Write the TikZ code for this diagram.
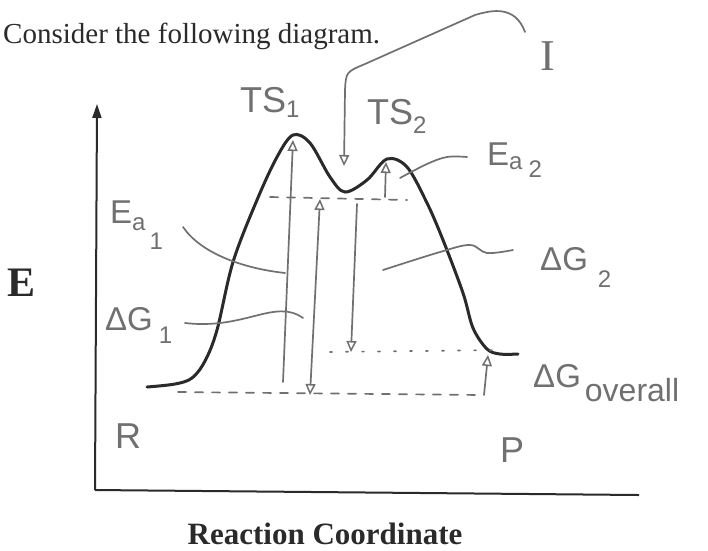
\documentclass[tikz,border=0pt]{standalone}
\usepackage{fontspec}
\setmainfont{Liberation Serif}
\newfontfamily\hand{Liberation Sans}
\usetikzlibrary{arrows.meta}
\definecolor{ink}{HTML}{2A2A2A}
\definecolor{pencil}{HTML}{707070}
\newcommand\lowr[2]{\raisebox{#1}{\fontsize{24}{24}\selectfont #2}}
\tikzset{
  print/.style={text=ink, inner sep=0pt},
  handlbl/.style={text=pencil, inner sep=0pt, font=\hand\fontsize{33}{33}\selectfont},
  biglbl/.style={handlbl, font=\hand\fontsize{36}{36}\selectfont},
  axisline/.style={draw=ink, line width=2pt},
  curveline/.style={draw=ink, line width=3pt, line cap=round},
  pen/.style={draw=pencil, line width=1.7pt, line cap=round},
  guide/.style={pen, dash pattern=on 8pt off 9pt},
  dotguide/.style={pen, dash pattern=on 2pt off 14pt},
  opentip/.tip={Triangle[open,length=11pt,width=10pt,line width=1.5pt]},
  uptip/.style={-opentip},
  bothtip/.style={opentip-opentip},
}
\begin{document}
\begin{tikzpicture}[x=1pt,y=-1pt]
\useasboundingbox (0,0) rectangle (708,550);
\fill[white] (0,0) rectangle (708,550);

% printed text
\node[print, anchor=base west, font=\fontsize{29}{29}\selectfont] (title) at (3,43) {Consider the following diagram.};
\node[print, font=\bfseries\fontsize{42}{42}\selectfont] (elbl) at (22,283) {E};
\node[print, anchor=base, font=\bfseries\fontsize{31}{31}\selectfont] (xlbl) at (325,544) {Reaction Coordinate};

% axes
\coordinate (origin) at (95,490);
\coordinate (ytop) at (97,104);
\coordinate (xend) at (639,495);
\draw[axisline, -{Triangle[length=14pt,width=9pt]}] (origin) -- (ytop);
\draw[axisline] (origin) -- (xend);

% energy curve
\draw[curveline] plot[smooth, tension=0.55] coordinates {
 (147,387) (175,384) (192,378) (205,361) (217,330) (233,262) (257,200)
 (277,157) (293,135) (310,143) (330,177) (345,192) (367,180) (387,159)
 (407,167) (427,203) (443,240) (463,293) (473,328) (487,349) (500,354) (518,354)};

% coordinates for levels
\coordinate (ts1) at (293,140);
\coordinate (ts1b) at (283,382);
\coordinate (ilevA) at (270,197);
\coordinate (ilevB) at (407,200);
\coordinate (rlevA) at (178,392);
\coordinate (rlevB) at (482,395);
\coordinate (plevA) at (330,352);
\coordinate (plevB) at (505,350);
\coordinate (dg1top) at (320,199);
\coordinate (dg1bot) at (310,395);
\coordinate (dg2top) at (357,204);
\coordinate (dg2bot) at (351,352);
\coordinate (ea2bot) at (385,197);
\coordinate (ea2top) at (386,162);
\coordinate (dgobot) at (484,395);
\coordinate (dgotop) at (488,355);
\coordinate (imin) at (344,166);

% guide lines
\draw[guide] (ilevA) -- (ilevB);
\draw[guide] (rlevA) -- (rlevB);
\draw[dotguide] (plevA) -- (plevB);

% arrows
\draw[pen, uptip] (ts1b) -- (ts1);
\draw[pen, bothtip] (dg1bot) -- (dg1top);
\draw[pen, uptip] (dg2top) -- (dg2bot);
\draw[pen, uptip] (ea2bot) -- (ea2top);
\draw[pen, uptip] (dgobot) -- (dgotop);

% handwritten labels
\node[biglbl, anchor=base west] (ts1lbl) at (240,112) {TS\lowr{-5pt}{1}};
\node[biglbl, anchor=base west] (ts2lbl) at (367,124) {TS\lowr{-9pt}{2}};
\node[handlbl, font=\rmfamily\fontsize{44}{44}\selectfont] (ilbl) at (548,56) {I};
\node[handlbl, anchor=base west] (ea1lbl) at (110,223) {E\lowr{-7pt}{a}\hspace{4pt}\lowr{-26pt}{1}};
\node[handlbl, anchor=base west] (ea2lbl) at (487,165) {E\lowr{-4pt}{a}\hspace{6pt}\lowr{-12pt}{2}};
\node[handlbl, anchor=base west] (dg1lbl) at (105,330) {ΔG\hspace{6pt}\lowr{-13pt}{1}};
\node[handlbl, anchor=base west] (dg2lbl) at (540,270) {ΔG\hspace{10pt}\lowr{-17pt}{2}};
\node[handlbl, anchor=base west] (dgolbl) at (533,387) {ΔG\hspace{4pt}\lowr{-14pt}{\fontsize{32}{32}\selectfont overall}};
\node[biglbl] (rlbl) at (128,436) {R};
\node[biglbl] (plbl) at (512,450) {P};

% leader lines
\coordinate (ea1a) at (183,227);
\coordinate (ea1b) at (285,273);
\draw[pen] (ea1a) .. controls (200,252) and (240,268) .. (ea1b);
\coordinate (dg1a) at (185,323);
\coordinate (dg1b) at (303,318);
\draw[pen] (dg1a) .. controls (245,330) and (275,298) .. (dg1b);
\coordinate (dg2a) at (383,270);
\coordinate (dg2b) at (513,250);
\draw[pen] plot[smooth, tension=0.6] coordinates {(dg2a) (440,252) (470,245) (487,253) (dg2b)};
\coordinate (ea2a) at (400,178);
\coordinate (ea2b) at (467,157);
\draw[pen] plot[smooth, tension=0.6] coordinates {(ea2a) (427,164) (447,157) (ea2b)};
\coordinate (iA) at (525,32);
\draw[pen, -opentip] (iA) .. controls (515,5) and (492,10) .. (475,15)
  -- (365,64) .. controls (346,72) .. (345,90) -- (imin);
\end{tikzpicture}
\end{document}
